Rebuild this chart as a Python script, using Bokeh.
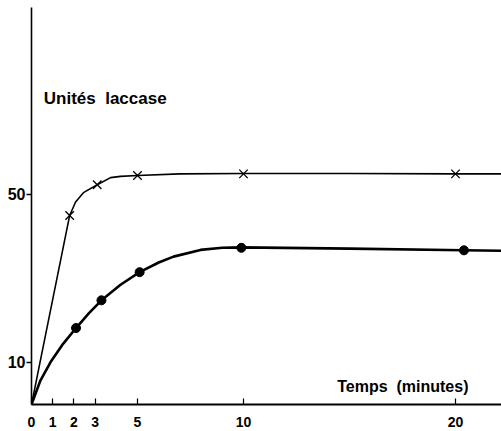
from bokeh.plotting import figure
from bokeh.models import FixedTicker, Range1d, Label
from bokeh.embed import file_html
from bokeh.resources import INLINE

# --- data ---
x_ticks = [0, 1, 2, 3, 5, 10, 20]
y_ticks = [10, 50]

# series with crosses (measured points)
cross_t = [1.8, 3.1, 5.0, 10.0, 20.0]
cross_u = [45.0, 52.3, 54.5, 54.9, 54.9]
# hand-drawn curve through the crosses (traced)
cross_curve_t = [0.0, 1.8, 2.08, 2.47, 3.1, 3.73, 4.2, 5.0, 7.0, 10.0, 15.0, 20.0, 22.2]
cross_curve_u = [0.0, 45.0, 48.2, 50.5, 52.3, 54.0, 54.3, 54.5, 54.9, 55.0, 55.0, 54.9, 54.9]

# series with dots (measured points)
dot_t = [2.1, 3.3, 5.1, 9.9, 20.4]
dot_u = [18.2, 24.8, 31.5, 37.3, 36.7]
# hand-drawn curve through the dots (traced)
dot_curve_t = [0.0, 0.42, 0.9, 1.5, 2.1, 2.7, 3.3, 4.2, 5.1, 6.0, 6.7, 7.97, 9.0, 9.9, 15.0, 20.4, 22.2]
dot_curve_u = [0.0, 5.7, 10.1, 14.5, 18.2, 21.7, 24.8, 28.5, 31.5, 33.8, 35.2, 36.8, 37.3, 37.4, 37.1, 36.7, 36.6]

p = figure(width=501, height=431, output_backend="svg", toolbar_location=None,
           x_range=Range1d(0, 22.17), y_range=Range1d(0, 94.5),
           min_border_left=31, min_border_right=0, min_border_top=7, min_border_bottom=27)
p.outline_line_color = None
p.xgrid.visible = False
p.ygrid.visible = False
p.background_fill_color = "white"
p.border_fill_color = "white"

# x axis
xa = p.xaxis[0]
xa.ticker = FixedTicker(ticks=x_ticks)
xa.major_tick_in = 6
xa.major_tick_out = 0
xa.minor_tick_line_color = None
xa.axis_line_width = 2
xa.major_tick_line_width = 1.2
xa.major_label_standoff = 12
xa.major_label_text_font = "Liberation Sans"
xa.major_label_text_font_style = "bold"
xa.major_label_text_font_size = "14px"
xa.major_label_text_color = "black"

# y axis
ya = p.yaxis[0]
ya.ticker = FixedTicker(ticks=y_ticks)
ya.major_tick_in = 0
ya.major_tick_out = 5
ya.minor_tick_line_color = None
ya.axis_line_width = 1.6
ya.major_tick_line_width = 1.5
ya.major_label_standoff = 1
ya.major_label_text_font = "Liberation Sans"
ya.major_label_text_font_style = "bold"
ya.major_label_text_font_size = "16px"
ya.major_label_text_color = "black"

# curves
p.line(cross_curve_t, cross_curve_u, line_color="black", line_width=1.6, line_join="round")
p.line(dot_curve_t, dot_curve_u, line_color="black", line_width=2.6, line_join="round", line_cap="round")

# markers
p.scatter(cross_t, cross_u, marker="x", size=12, line_color="black", line_width=1.3)
p.scatter(dot_t, dot_u, marker="circle", size=9, fill_color="black", line_color="black")

# texts
p.add_layout(Label(x=0.58, y=72.8, text="Unités\u00a0\u00a0laccase", text_font="Liberation Sans",
                   text_font_size="17px", text_font_style="bold", text_color="black",
                   text_baseline="alphabetic"))
p.add_layout(Label(x=14.42, y=4.4, text="Temps\u00a0\u00a0(minutes)", text_font="Liberation Sans",
                   text_font_size="16px", text_font_style="bold", text_color="black",
                   text_baseline="alphabetic"))

open("out.html", "w").write(file_html(p, INLINE))
